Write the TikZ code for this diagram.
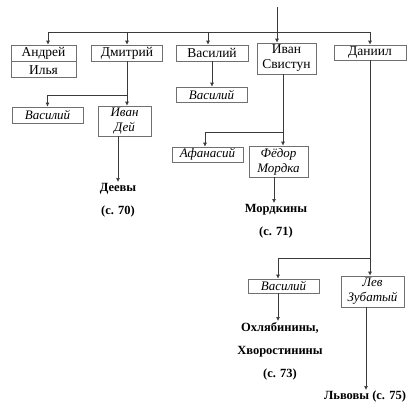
\documentclass[tikz,border=0pt]{standalone}
\usepackage{fontspec}
\setmainfont{Liberation Serif}
\usetikzlibrary{arrows.meta, positioning, calc}
\definecolor{boxgray}{HTML}{707070}
\definecolor{linegray}{HTML}{3A3A3A}

\begin{document}
\begin{tikzpicture}[x=1pt, y=-1pt,
    person/.style={draw=boxgray, line width=0.7pt, inner sep=0pt, align=center, font=\fontsize{13.5}{15}\selectfont, minimum height=16pt},
    child/.style={person, font=\fontsize{13}{15}\selectfont\itshape},
    branch/.style={linegray, line width=0.7pt},
    link/.style={branch, -{Latex[length=4pt, width=4pt]}},
    family/.style={anchor=north, inner sep=1pt, align=center, font=\fontsize{12.5}{23}\selectfont\bfseries}]

  \useasboundingbox (0,0) rectangle (409,402);

  % first row
  \node[person, minimum width=65pt] (andrey) at (43.5,53) {Андрей};
  \node[person, minimum width=65pt, below=0pt of andrey] (ilya) {Илья};
  \node[person, minimum width=71pt] (dmitry) at (127,53) {Дмитрий};
  \node[person, minimum width=72pt] (vasily) at (212,53) {Василий};
  \node[person, minimum width=59pt, minimum height=31pt] (ivan) at (286.5,58.5) {Иван\\Свистун};
  \node[person, minimum width=72pt, minimum height=15pt] (daniil) at (370,52.5) {Даниил};

  % second row
  \node[child, minimum width=71pt] (vasilyD) at (47.5,115) {Василий};
  \node[child, minimum width=53pt, minimum height=30pt] (ivanDey) at (124.5,121) {Иван\\Дей};
  \node[child, minimum width=71pt, minimum height=15pt] (vasilyV) at (211.5,94.5) {Василий};
  \node[child, minimum width=71pt, minimum height=15pt] (afanasy) at (207.5,154.5) {Афанасий};
  \node[child, minimum width=59pt, minimum height=31pt] (fedor) at (278.5,161.5) {Фёдор\\Мордка};
  \node[child, minimum width=71pt, minimum height=14pt] (vasilyDn) at (283.5,286) {Василий};
  \node[child, minimum width=63pt, minimum height=31pt] (lev) at (372.5,291.5) {Лев\\Зубатый};

  % families
  \node[family] (deevy) at (118,182) {Деевы\\(с. 70)};
  \node[family] (mordkiny) at (276,203) {Мордкины\\(с. 71)};
  \node[family] (okhl) at (280,321) {Охлябинины,\\Хворостинины\\(с. 73)};
  \node[family] (lvovy) at (365,390) {Львовы (с. 75)};

  % top
  \coordinate (root) at (277,7);
  \coordinate (bar) at (277,32);
  \draw[link] (root) -- (root |- ivan.north);
  \draw[branch] ([xshift=4.5pt]andrey.north |- bar) -- (daniil.north |- bar);
  \foreach \n/\s in {andrey/4.5, dmitry/0, vasily/-4, daniil/0}
    \draw[link] ([xshift=\s pt]\n.north |- bar) -- ([xshift=\s pt]\n.north);

  % Dmitry
  \coordinate (dj) at (127,95);
  \draw[branch] (dmitry.south) -- (dj) -- (vasilyD.north |- dj);
  \draw[link] (vasilyD.north |- dj) -- (vasilyD.north);
  \draw[link] (dj) -- (dj |- ivanDey.north);
  \draw[link] (ivanDey.south -| deevy.north) -- (deevy.north);

  % Vasily
  \draw[link] (vasily.south) -- (vasily.south |- vasilyV.north);

  % Ivan Svistun
  \coordinate (ij) at (283,132);
  \draw[branch] (ij |- ivan.south) -- (ij) -- ([xshift=-2.5pt]afanasy.north |- ij);
  \draw[link] ([xshift=-2.5pt]afanasy.north |- ij) -- ([xshift=-2.5pt]afanasy.north);
  \draw[link] (ij) -- (ij |- fedor.north);
  \draw[link] ([xshift=-4.5pt]fedor.south) -- ([xshift=-4.5pt]fedor.south |- mordkiny.north);

  % Daniil
  \coordinate (dnj) at (370,258);
  \draw[branch] (daniil.south) -- (dnj) -- ([xshift=-5.5pt]vasilyDn.north |- dnj);
  \draw[link] ([xshift=-5.5pt]vasilyDn.north |- dnj) -- ([xshift=-5.5pt]vasilyDn.north);
  \draw[link] (dnj) -- (dnj |- lev.north);
  \draw[link] ([xshift=-5.5pt]vasilyDn.south) -- ([xshift=-5.5pt]vasilyDn.south |- okhl.north);
  \draw[link] ([xshift=-6.5pt]lev.south) -- ([xshift=-6.5pt]lev.south |- lvovy.north);
\end{tikzpicture}
\end{document}
